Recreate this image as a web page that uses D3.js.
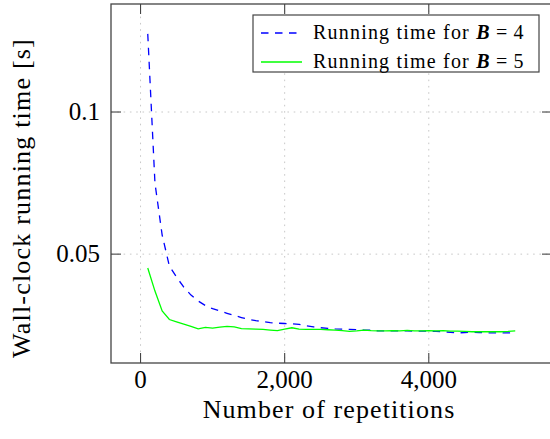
<!DOCTYPE html>
<html>
<head>
<meta charset="utf-8">
<script src="https://cdn.jsdelivr.net/npm/d3@7"></script>
<style>
  html, body { margin: 0; padding: 0; background: #fff; }
  svg { display: block; font-family: "Liberation Serif", "DejaVu Serif", serif; }
</style>
</head>
<body>
<div id="chart"></div>
<script>
// number of repetitions (x)
var reps = d3.range(1, 53).map(function(i) { return i * 100; });

// wall-clock running time [s], B = 4
var timeB4 = [
  0.1275, 0.0750, 0.0567, 0.0458, 0.0419, 0.0384, 0.0356, 0.0335, 0.0319, 0.0308,
  0.0300, 0.0292, 0.0284, 0.0277, 0.0270, 0.0266, 0.0263, 0.0259, 0.0257, 0.0256,
  0.0255, 0.0253, 0.0248, 0.0244, 0.0241, 0.0239, 0.0237, 0.0236, 0.0235, 0.0234,
  0.0233, 0.0232, 0.0230, 0.0230, 0.0230, 0.0230, 0.0230, 0.0229, 0.0229, 0.0229,
  0.0228, 0.0227, 0.0225, 0.0223, 0.0224, 0.0225, 0.0224, 0.0223, 0.0223, 0.0223,
  0.0223, 0.0223
];

// wall-clock running time [s], B = 5
var timeB5 = [
  0.0451, 0.0370, 0.0300, 0.0270, 0.0262, 0.0254, 0.0246, 0.0237, 0.0242, 0.0240,
  0.0243, 0.0246, 0.0244, 0.0238, 0.0237, 0.0236, 0.0235, 0.0233, 0.0231, 0.0236,
  0.0241, 0.0236, 0.0235, 0.0235, 0.0235, 0.0234, 0.0233, 0.0231, 0.0228, 0.0230,
  0.0233, 0.0231, 0.0230, 0.0230, 0.0231, 0.0230, 0.0232, 0.0230, 0.0230, 0.0231,
  0.0230, 0.0231, 0.0229, 0.0229, 0.0228, 0.0227, 0.0227, 0.0227, 0.0227, 0.0227,
  0.0228, 0.0230
];

var xTicks = [0, 2000, 4000],
    yTicks = [0.05, 0.1],
    xDomain = [-410, 5710],
    yDomain = [0.0117, 0.138];

var w = 550,
    h = 439,
    pLeft = 111,
    pRight = 552,
    pTop = 4,
    pBottom = 363,
    tickLen = 10,
    frameColor = '#444';

var x = d3.scaleLinear().domain(xDomain).range([pLeft, pRight]),
    y = d3.scaleLinear().domain(yDomain).range([pBottom, pTop]);

var svg = d3.select('#chart').append('svg')
  .attr('width', w)
  .attr('height', h);

// grid
svg.selectAll('line.gx')
  .data(xTicks)
  .enter().append('line')
  .attr('class', 'gx')
  .attr('x1', x).attr('x2', x)
  .attr('y1', pTop).attr('y2', pBottom)
  .style('stroke', '#c8c8c8')
  .style('stroke-width', 1)
  .style('stroke-dasharray', '1.6,4.7');

svg.selectAll('line.gy')
  .data(yTicks)
  .enter().append('line')
  .attr('class', 'gy')
  .attr('x1', pLeft).attr('x2', pRight)
  .attr('y1', y).attr('y2', y)
  .style('stroke', '#c8c8c8')
  .style('stroke-width', 1)
  .style('stroke-dasharray', '1.6,4.7');

// tick marks, inside on every side
var ticks = svg.append('g').style('stroke', frameColor).style('stroke-width', 1.1);
xTicks.forEach(function(d) {
  ticks.append('line').attr('x1', x(d)).attr('x2', x(d)).attr('y1', pBottom).attr('y2', pBottom - tickLen);
  ticks.append('line').attr('x1', x(d)).attr('x2', x(d)).attr('y1', pTop).attr('y2', pTop + tickLen);
});
yTicks.forEach(function(d) {
  ticks.append('line').attr('x1', pLeft).attr('x2', pLeft + tickLen).attr('y1', y(d)).attr('y2', y(d));
  ticks.append('line').attr('x1', pRight).attr('x2', pRight - tickLen).attr('y1', y(d)).attr('y2', y(d));
});

// the two series
var line = d3.line()
  .x(function(d) { return x(d[0]); })
  .y(function(d) { return y(d[1]); });

svg.append('path')
  .datum(d3.zip(reps, timeB4))
  .attr('d', line)
  .style('fill', 'none')
  .style('stroke', '#0000ff')
  .style('stroke-width', 1.3)
  .style('stroke-dasharray', '7.5,6.5');

svg.append('path')
  .datum(d3.zip(reps, timeB5))
  .attr('d', line)
  .style('fill', 'none')
  .style('stroke', '#00ff00')
  .style('stroke-width', 1.3);

// frame
svg.append('rect')
  .attr('x', pLeft).attr('y', pTop)
  .attr('width', pRight - pLeft).attr('height', pBottom - pTop)
  .style('fill', 'none')
  .style('stroke', frameColor)
  .style('stroke-width', 1.3);

// tick labels
svg.selectAll('text.xt')
  .data(xTicks)
  .enter().append('text')
  .attr('class', 'xt')
  .attr('x', x)
  .attr('y', 388)
  .attr('text-anchor', 'middle')
  .style('font-size', '25px')
  .text(d3.format(','));

svg.selectAll('text.yt')
  .data(yTicks)
  .enter().append('text')
  .attr('class', 'yt')
  .attr('x', 100)
  .attr('y', function(d) { return y(d) + 8; })
  .attr('text-anchor', 'end')
  .style('font-size', '25px')
  .text(function(d) { return String(d); });

// axis labels
svg.append('text')
  .attr('x', 329)
  .attr('y', 418)
  .attr('text-anchor', 'middle')
  .style('font-size', '26px')
  .style('letter-spacing', '1.1px')
  .text('Number of repetitions');

svg.append('text')
  .attr('transform', 'translate(30,198) rotate(-90)')
  .attr('text-anchor', 'middle')
  .style('font-size', '26px')
  .style('letter-spacing', '1.2px')
  .text('Wall-clock running time [s]');

// legend
var legend = svg.append('g');
legend.append('rect')
  .attr('x', 253).attr('y', 15)
  .attr('width', 286).attr('height', 57)
  .style('fill', '#fff')
  .style('stroke', frameColor)
  .style('stroke-width', 1.2);

var entries = [
  { label: 'Running time for ', b: '4', color: '#0000ff', dash: '7.5,6.5' },
  { label: 'Running time for ', b: '5', color: '#00ff00', dash: null }
];

var rows = legend.selectAll('g.row')
  .data(entries)
  .enter().append('g')
  .attr('class', 'row')
  .attr('transform', function(d, i) { return 'translate(0,' + (33 + i * 29) + ')'; });

rows.append('line')
  .attr('x1', 261).attr('x2', 302)
  .attr('y1', 0).attr('y2', 0)
  .style('stroke', function(d) { return d.color; })
  .style('stroke-width', 1.3)
  .style('stroke-dasharray', function(d) { return d.dash; });

var lt = rows.append('text')
  .attr('x', 313)
  .attr('y', 6)
  .style('font-size', '20px')
  .style('letter-spacing', '1.2px');
lt.append('tspan').text(function(d) { return d.label; });
lt.append('tspan').style('font-style', 'italic').style('font-weight', 'bold').text('B');
lt.append('tspan').text(function(d) { return '\u2009=\u2009' + d.b; });
</script>
</body>
</html>
